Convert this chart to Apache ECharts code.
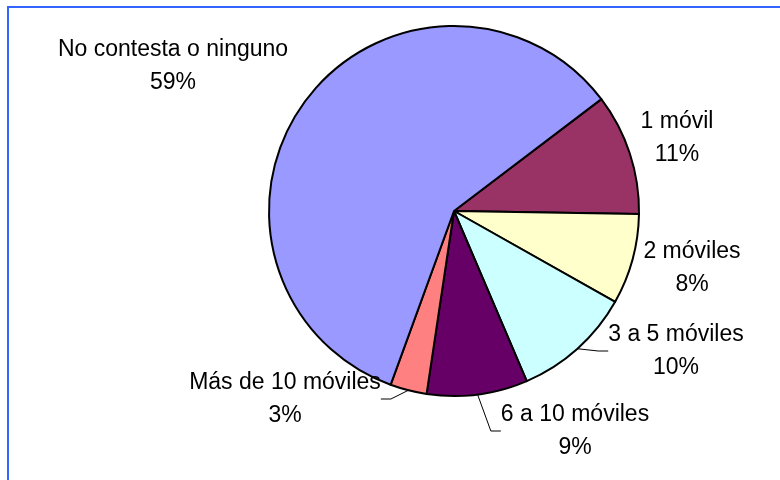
<!DOCTYPE html>
<html>
<head>
<meta charset="utf-8">
<script src="https://cdn.jsdelivr.net/npm/echarts@6/dist/echarts.min.js"></script>
<style>
html,body{margin:0;padding:0;background:#fff;}
#chart{width:780px;height:480px;}
</style>
</head>
<body>
<div id="chart"></div>
<script>
// Data (clockwise from the "1 móvil" slice)
const categories = ['1 móvil', '2 móviles', '3 a 5 móviles', '6 a 10 móviles', 'Más de 10 móviles', 'No contesta o ninguno'];
const values = [10.6, 7.9, 10.4, 8.8, 3.2, 59.1];

// Styling (kept separate from data)
const colors = ['#993366', '#FFFFCC', '#CCFFFF', '#660066', '#FF8080', '#9999FF'];
const showLeader = [false, false, true, true, true, false];
const labelCenters = [[677, 138], [692, 268], [676, 351], [575, 431], [285, 399], [173, 66]];

const chart = echarts.init(document.getElementById('chart'), null, {renderer: 'canvas'});
const data = categories.map((c, i) => ({
  name: c,
  value: values[i],
  itemStyle: {color: colors[i]},
  labelLine: {show: showLeader[i]}
}));

chart.setOption({
  animation: false,
  backgroundColor: '#ffffff',
  graphic: [{
    type: 'rect',
    shape: {x: 8, y: 7, width: 900, height: 600},
    style: {fill: 'none', stroke: '#3366FF', lineWidth: 2},
    silent: true
  }],
  series: [{
    type: 'pie',
    center: [454, 211],
    radius: [0, 185],
    startAngle: 37.2,
    clockwise: true,
    avoidLabelOverlap: false,
    data: data,
    itemStyle: {borderColor: '#000000', borderWidth: 2},
    label: {
      show: true,
      position: 'outside',
      color: '#000000',
      fontFamily: 'Liberation Sans, Arial, sans-serif',
      fontSize: 23,
      lineHeight: 33,
      align: 'center',
      formatter: p => p.name + '\n' + Math.round(p.percent) + '%'
    },
    labelLine: {show: false, length: 10, length2: 10, lineStyle: {color: '#000000', width: 1}},
    labelLayout: function (params) {
      const p = labelCenters[params.dataIndex];
      return {x: p[0], y: p[1], align: 'center', verticalAlign: 'middle'};
    },
    emphasis: {disabled: true}
  }]
});
</script>
</body>
</html>
